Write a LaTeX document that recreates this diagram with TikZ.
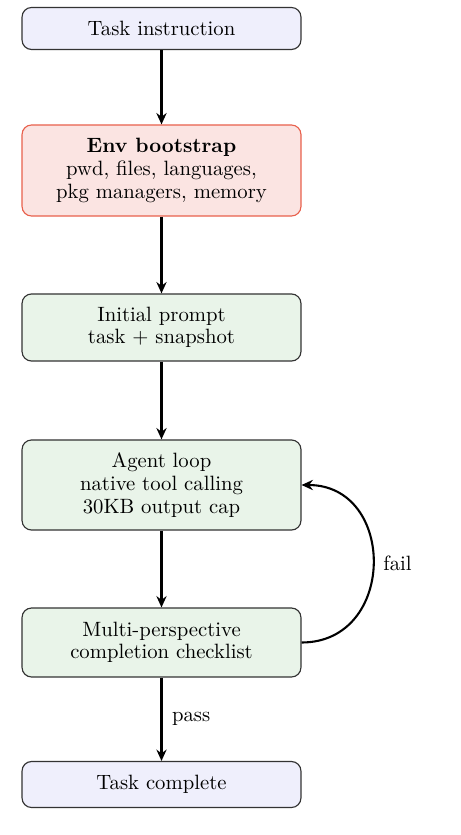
\documentclass[tikz,border=0pt]{standalone}
\usetikzlibrary{arrows.meta}
\definecolor{lavfill}{HTML}{EFEFFC}
\definecolor{redfill}{HTML}{FBE4E2}
\definecolor{redline}{HTML}{E8604C}
\definecolor{grnfill}{HTML}{E9F4E9}
\definecolor{boxline}{HTML}{333333}
\tikzset{
  every node/.style={font=\fontsize{10.9}{11.9}\selectfont},
  box/.style={draw=boxline, line width=0.6pt, rounded corners=5pt, align=center,
    minimum width=146.8pt, inner sep=0pt},
  endbox/.style={box, fill=lavfill},
  redbox/.style={box, fill=redfill, draw=redline},
  grnbox/.style={box, fill=grnfill},
  flow/.style={-{Stealth[length=6pt,width=5.4pt,inset=2pt]}, line width=1.1pt}
}
\begin{document}
\begin{tikzpicture}[x=0.5263pt,y=-0.5263pt]
\useasboundingbox (0,0) rectangle (460,835);
\node[endbox, minimum height=22.1pt] (ti) at (161.5,28.5) {Task instruction};
\node[redbox, minimum height=47.9pt] (env) at (161.5,170.5) {\textbf{Env bootstrap}\\pwd, files, languages,\\pkg managers, memory};
\node[grnbox, minimum height=35.3pt] (ip) at (161.5,327.5) {Initial prompt\\task + snapshot};
\node[grnbox, minimum height=47.4pt] (al) at (161.5,485) {Agent loop\\native tool calling\\30KB output cap};
\node[grnbox, minimum height=36.3pt] (mc) at (161.5,642.5) {Multi-perspective\\completion checklist};
\node[endbox, minimum height=24.2pt] (tc) at (161.5,784.5) {Task complete};
\draw[flow] (ti) -- (env);
\draw[flow] (env) -- (ip);
\draw[flow] (ip) -- (al);
\draw[flow] (al) -- (mc);
\draw[flow] (mc) -- node[right, inner sep=5pt] {pass} (tc);
\draw[flow] (mc.east) to[out=0, in=0, looseness=1.55] node[right, inner sep=5pt] {fail} (al.east);
\end{tikzpicture}
\end{document}
